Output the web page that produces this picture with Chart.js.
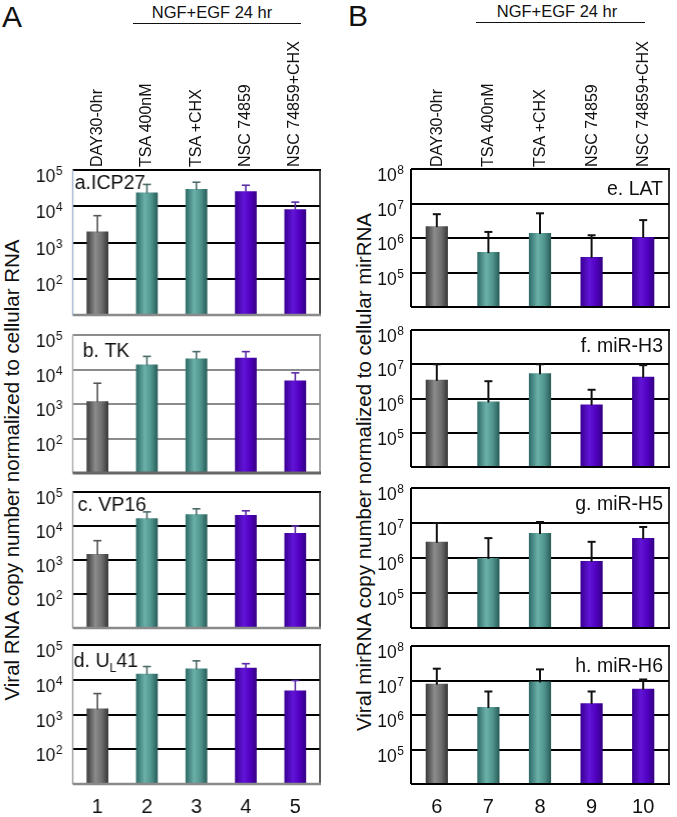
<!DOCTYPE html>
<html>
<head>
<meta charset="utf-8">
<script src="https://cdn.jsdelivr.net/npm/chart.js@4.4.1/dist/chart.umd.min.js"></script>
<style>
  body { margin: 0; background: #fff; }
  #fig { position: relative; width: 677px; height: 817px; overflow: hidden;
         font-family: 'Liberation Sans', Arial, sans-serif; color: #111; }
  #fig canvas { position: absolute; }
  .txt { position: absolute; white-space: nowrap; line-height: 1; }
  .rot { transform-origin: 0 0; transform: rotate(-90deg) translateY(-50%); font-size: 16px; line-height: 16px; }
  .ytitle { transform: translate(-50%, -50%) rotate(-90deg); font-size: 20.5px; }
  .rule { position: absolute; height: 0; border-top: 1.5px solid #111; }
</style>
</head>
<body>
<div id="fig">
  <div class="txt" style="left:2px;top:2px;font-size:30px;">A</div>
  <div class="txt" style="left:348px;top:1px;font-size:30px;">B</div>
  <div class="txt" style="left:212px;top:4px;font-size:16.5px;transform:translateX(-50%);">NGF+EGF 24 hr</div>
  <div class="txt" style="left:557px;top:3px;font-size:16.5px;transform:translateX(-50%);">NGF+EGF 24 hr</div>
  <div class="rule" style="left:133px;top:23px;width:168px;"></div>
  <div class="rule" style="left:476px;top:22px;width:169px;"></div>
  <div class="txt ytitle" style="left:12px;top:470px;">Viral RNA copy number normalized to cellular RNA</div>
  <div class="txt ytitle" style="left:364px;top:472px;">Viral mirRNA copy number normalized to cellular mirRNA</div>
</div>
<script>
// categories
const treatments = ['DAY30-0hr', 'TSA 400nM', 'TSA +CHX', 'NSC 74859', 'NSC 74859+CHX'];
const lanesA = ['1', '2', '3', '4', '5'];
const lanesB = ['6', '7', '8', '9', '10'];
const ticksA = [1e1, 1e2, 1e3, 1e4, 1e5];
const ticksB = [1e4, 1e5, 1e6, 1e7, 1e8];

// panel A: viral RNA (bar value, top of error bar)
const icp27 = [2000, 24000, 30000, 26000, 8300];
const icp27Err = [5500, 40000, 46000, 38000, 13000];
const tk = [1200, 14000, 21000, 22000, 4800];
const tkErr = [4000, 24000, 33000, 33000, 8000];
const vp16 = [1500, 17000, 22000, 21000, 6200];
const vp16Err = [3700, 26000, 32000, 28000, 10000];
const ul41 = [1500, 15000, 21000, 22000, 4900];
const ul41Err = [4000, 24000, 35000, 29000, 9500];

// panel B: viral miRNA
const lat = [2.2e6, 3.9e5, 1.4e6, 2.8e5, 1.07e6];
const latErr = [4.9e6, 1.5e6, 5.2e6, 1.2e6, 3.3e6];
const mirH3 = [3.5e6, 8.2e5, 5.5e6, 6.7e5, 4.3e6];
const mirH3Err = [1e7, 3.2e6, 1e7, 1.8e6, 9.4e6];
const mirH5 = [2.9e6, 1e6, 5.2e6, 8.2e5, 3.7e6];
const mirH5Err = [1e7, 3.7e6, 1.07e7, 2.9e6, 7.7e6];
const mirH6 = [8.1e6, 1.7e6, 9.4e6, 2.2e6, 5.8e6];
const mirH6Err = [2.2e7, 4.8e6, 2.1e7, 4.8e6, 1.07e7];

const FONT = "'Liberation Sans', Arial, sans-serif";

// bar shading: grey control, teal TSA, purple NSC
const barStops = [
  ['#3a3a3a', '#8c8c8c', '#6e6e6e', '#363636'],
  ['#2c6a66', '#6cb0aa', '#4f938d', '#285b57'],
  ['#2c6a66', '#6cb0aa', '#4f938d', '#285b57'],
  ['#380092', '#6214d8', '#5000c0', '#32007f'],
  ['#380092', '#6214d8', '#5000c0', '#32007f']
];
const errA = ['#555', '#4a6b68', '#4a6b68', '#5b2ba3', '#5b2ba3'];
const errB = ['#111', '#111', '#111', '#111', '#111'];

const styleA1 = { grid: '#000', top: '#000', bottom: '#8a8a8a', bw: 2.5, left: '#9fb4cf', right: '#222' };
const styleA2 = { grid: '#8c8c8c', top: '#8c8c8c', bottom: '#666', bw: 3, left: '#aaa', right: '#8c8c8c' };
const styleA3 = { grid: '#000', top: '#000', bottom: '#8a8a8a', bw: 2.5, left: '#999', right: '#333' };
const styleB = { grid: '#000', top: '#000', bottom: '#000', bw: 2, left: '#000', right: '#000' };

const panels = [
  { parts: [['a.ICP27', 0]], data: icp27, err: icp27Err, lanes: lanesA, ticks: ticksA, col: 0, box: [72.5, 170, 319.5, 315], lx: 2, ly: 14, align: 'left', st: styleA1, ec: errA, ew: 1.6, bp: 0.44, tg: 10 },
  { parts: [['b. TK', 0]], data: tk, err: tkErr, lanes: lanesA, ticks: ticksA, col: 0, box: [72.5, 335, 319.5, 473], lx: 10, ly: 17, align: 'left', st: styleA2, ec: errA, ew: 1.6, bp: 0.44, tg: 10 },
  { parts: [['c. VP16', 0]], data: vp16, err: vp16Err, lanes: lanesA, ticks: ticksA, col: 0, box: [72.5, 492, 319.5, 628], lx: 5, ly: 14, align: 'left', st: styleA3, ec: errA, ew: 1.6, bp: 0.44, tg: 10 },
  { parts: [['d. U', 0], ['L', 1], ['41', 0]], data: ul41, err: ul41Err, lanes: lanesA, ticks: ticksA, col: 0, box: [72.5, 645, 319.5, 784], lx: 1, ly: 17, align: 'left', st: styleA3, ec: errA, ew: 1.6, bp: 0.44, tg: 10, bottom: true },
  { parts: [['e. LAT', 0]], data: lat, err: latErr, lanes: lanesB, ticks: ticksB, col: 340, box: [411, 169, 669, 307], lx: 6, ly: 21, align: 'right', st: styleB, ec: errB, ew: 2, bp: 0.43, tg: 7 },
  { parts: [['f. miR-H3', 0]], data: mirH3, err: mirH3Err, lanes: lanesB, ticks: ticksB, col: 340, box: [411, 330, 669, 467], lx: 6, ly: 17, align: 'right', st: styleB, ec: errB, ew: 2, bp: 0.43, tg: 7 },
  { parts: [['g. miR-H5', 0]], data: mirH5, err: mirH5Err, lanes: lanesB, ticks: ticksB, col: 340, box: [411, 488, 669, 628], lx: 6, ly: 17, align: 'right', st: styleB, ec: errB, ew: 2, bp: 0.43, tg: 7 },
  { parts: [['h. miR-H6', 0]], data: mirH6, err: mirH6Err, lanes: lanesB, ticks: ticksB, col: 340, box: [411, 646, 669, 784], lx: 6, ly: 21, align: 'right', st: styleB, ec: errB, ew: 2, bp: 0.43, tg: 7, bottom: true }
];

function seg(ctx, x1, y1, x2, y2, color, w) {
  ctx.strokeStyle = color; ctx.lineWidth = w;
  ctx.beginPath(); ctx.moveTo(x1, y1); ctx.lineTo(x2, y2); ctx.stroke();
}

function deco(p) {
  return {
    id: 'deco',
    afterDatasetsDraw(chart) {
      const ctx = chart.ctx, a = chart.chartArea, y = chart.scales.y;
      const meta = chart.getDatasetMeta(0);
      ctx.save();
      // error bars
      meta.data.forEach(function (bar, i) {
        const yt = y.getPixelForValue(p.err[i]);
        seg(ctx, bar.x, bar.y + 1, bar.x, yt, p.ec[i], p.ew);
        seg(ctx, bar.x - 4, yt, bar.x + 4, yt, p.ec[i], p.ew);
      });
      // frame
      seg(ctx, a.left, a.top, a.right + 1, a.top, p.st.top, 2);
      seg(ctx, a.right, a.top, a.right, a.bottom, p.st.right, 1.6);
      seg(ctx, a.left, a.top, a.left, a.bottom, p.st.left, p.col ? 2 : 1.4);
      seg(ctx, a.left, a.bottom, a.right + 1, a.bottom, p.st.bottom, p.st.bw);
      // tick labels 10^n
      ctx.fillStyle = '#111';
      ctx.textBaseline = 'alphabetic';
      p.ticks.slice(1).forEach(function (v) {
        const yy = y.getPixelForValue(v);
        const e = String(Math.round(Math.log10(v)));
        const xr = a.left - p.tg;
        ctx.font = '12px ' + FONT;
        const ew = ctx.measureText(e).width;
        ctx.textAlign = 'left';
        ctx.fillText(e, xr - ew, yy + 5);
        ctx.font = '17.5px ' + FONT;
        ctx.textAlign = 'right';
        ctx.fillText('10', xr - ew - 0.5, yy + 12);
      });
      // panel label
      ctx.textBaseline = 'middle';
      ctx.textAlign = 'left';
      let total = 0;
      p.parts.forEach(function (pt) {
        ctx.font = (pt[1] ? '12px ' : '19.5px ') + FONT;
        total += ctx.measureText(pt[0]).width;
      });
      let x = p.align === 'left' ? a.left + p.lx : a.right - p.lx - total;
      const ly = a.top + p.ly;
      p.parts.forEach(function (pt) {
        ctx.font = (pt[1] ? '12px ' : '19.5px ') + FONT;
        ctx.fillText(pt[0], x, pt[1] ? ly + 7 : ly);
        x += ctx.measureText(pt[0]).width;
      });
      ctx.restore();
    }
  };
}

const fig = document.getElementById('fig');
const charts = [];

panels.forEach(function (p) {
  const padTop = 12, padRight = 8, padBottom = p.bottom ? 6 : 8, xH = p.bottom ? 32 : 0;
  const cv = document.createElement('canvas');
  const top = p.box[1] - padTop;
  const w = p.box[2] + padRight - p.col;
  const h = p.box[3] + xH + padBottom - top;
  cv.width = w; cv.height = h;
  cv.style.left = p.col + 'px'; cv.style.top = top + 'px';
  cv.style.width = w + 'px'; cv.style.height = h + 'px';
  fig.appendChild(cv);

  const xAxis = {
    display: !!p.bottom,
    grid: { display: false, drawTicks: false },
    border: { display: false },
    ticks: { font: { size: 20, family: FONT }, color: '#111', padding: 11, maxRotation: 0, autoSkip: false }
  };
  if (p.bottom) xAxis.afterFit = function (s) { s.height = xH; };

  charts.push(new Chart(cv, {
    type: 'bar',
    data: {
      labels: p.lanes,
      datasets: [{
        data: p.data,
        borderWidth: 0,
        categoryPercentage: 1,
        barPercentage: p.bp,
        backgroundColor: function (c) {
          const ch = c.chart, i = c.dataIndex;
          if (!ch.chartArea) return barStops[i][1];
          const cx = ch.scales.x.getPixelForValue(i);
          const bw = ch.scales.x.width / p.lanes.length * p.bp;
          const g = ch.ctx.createLinearGradient(cx - bw / 2, 0, cx + bw / 2, 0);
          g.addColorStop(0, barStops[i][0]);
          g.addColorStop(0.4, barStops[i][1]);
          g.addColorStop(0.7, barStops[i][2]);
          g.addColorStop(1, barStops[i][3]);
          return g;
        }
      }]
    },
    options: {
      responsive: false,
      animation: false,
      devicePixelRatio: 1,
      layout: { padding: { top: padTop, right: padRight, bottom: padBottom, left: 0 } },
      scales: {
        x: xAxis,
        y: {
          type: 'logarithmic',
          min: p.ticks[0],
          max: p.ticks[p.ticks.length - 1],
          afterBuildTicks: function (s) { s.ticks = p.ticks.map(function (v) { return { value: v }; }); },
          ticks: { display: false },
          grid: { color: p.st.grid, lineWidth: 2, drawTicks: false },
          border: { display: false },
          afterFit: function (s) { s.width = p.box[0] - p.col; }
        }
      },
      plugins: { legend: { display: false }, tooltip: { enabled: false } }
    },
    plugins: [deco(p)]
  }));
});

// rotated treatment names above the top panels, placed on the category centres
[[charts[0], panels[0]], [charts[4], panels[4]]].forEach(function (pair) {
  const ch = pair[0], p = pair[1];
  treatments.forEach(function (t, i) {
    const d = document.createElement('div');
    d.className = 'txt rot';
    d.textContent = t;
    d.style.left = (p.col + ch.scales.x.getPixelForValue(i)) + 'px';
    d.style.top = '167px';
    fig.appendChild(d);
  });
});
</script>
</body>
</html>
